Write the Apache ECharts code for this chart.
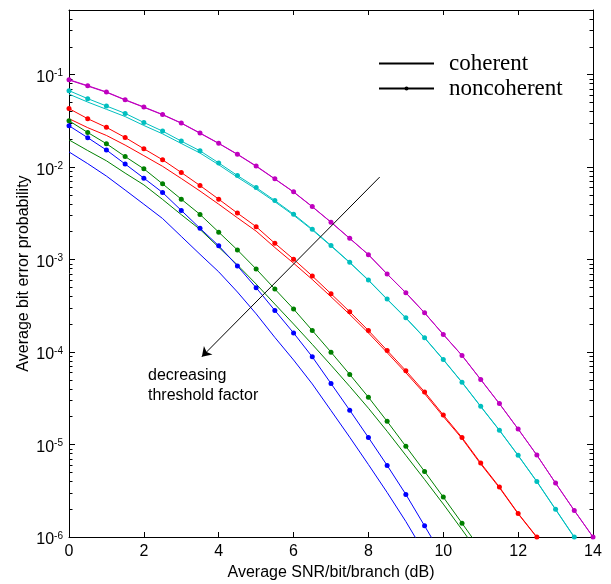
<!DOCTYPE html>
<html>
<head>
<meta charset="utf-8">
<script src="https://cdn.jsdelivr.net/npm/echarts@6/dist/echarts.min.js"></script>
<style>
  html, body { margin: 0; padding: 0; background: #fff; }
  #chart { width: 611px; height: 584px; }
</style>
</head>
<body>
<div id="chart"></div>
<script>
// Average SNR/bit/branch (dB), 0.5 dB steps
const snr = [0, 0.5, 1, 1.5, 2, 2.5, 3, 3.5, 4, 4.5, 5, 5.5, 6, 6.5, 7, 7.5, 8, 8.5, 9, 9.5, 10, 10.5, 11, 11.5, 12, 12.5, 13, 13.5, 14]

// bit error probability, noncoherent (with dots) / coherent (plain)
const nonMagenta = [8.83e-2, 7.60e-2, 6.50e-2, 5.36e-2, 4.47e-2, 3.71e-2, 3.00e-2, 2.34e-2, 1.81e-2, 1.38e-2, 1.03e-2, 7.47e-3, 5.40e-3, 3.74e-3, 2.54e-3, 1.70e-3, 1.13e-3, 6.98e-4, 4.38e-4, 2.66e-4, 1.55e-4, 9.19e-5, 5.05e-5, 2.77e-5, 1.47e-5, 7.69e-6, 3.83e-6, 1.94e-6, 1.0e-6]
const cohMagenta = [8.74e-2, 7.52e-2, 6.44e-2, 5.31e-2, 4.43e-2, 3.68e-2, 2.98e-2, 2.32e-2, 1.80e-2, 1.37e-2, 1.02e-2, 7.43e-3, 5.37e-3, 3.72e-3, 2.53e-3, 1.69e-3, 1.13e-3, 6.96e-4, 4.37e-4, 2.65e-4, 1.55e-4, 9.17e-5, 5.04e-5, 2.76e-5, 1.47e-5, 7.67e-6, 3.82e-6, 1.93e-6, 1.0e-6]

const nonCyan = [6.71e-2, 5.50e-2, 4.58e-2, 3.81e-2, 3.04e-2, 2.45e-2, 1.91e-2, 1.50e-2, 1.11e-2, 8.11e-3, 6.01e-3, 4.35e-3, 3.10e-3, 2.13e-3, 1.42e-3, 9.35e-4, 6.01e-4, 3.74e-4, 2.35e-4, 1.43e-4, 8.32e-5, 4.72e-5, 2.59e-5, 1.43e-5, 7.64e-6, 3.99e-6, 2.00e-6, 1.0e-6]
const cohCyan = [6.15e-2, 5.05e-2, 4.22e-2, 3.52e-2, 2.82e-2, 2.29e-2, 1.80e-2, 1.42e-2, 1.06e-2, 7.77e-3, 5.79e-3, 4.22e-3, 3.02e-3, 2.09e-3, 1.40e-3, 9.26e-4, 5.96e-4, 3.71e-4, 2.33e-4, 1.42e-4, 8.26e-5, 4.69e-5, 2.57e-5, 1.42e-5, 7.59e-6, 3.96e-6, 1.98e-6, 9.9e-7]

const nonRed = [4.29e-2, 3.34e-2, 2.69e-2, 2.09e-2, 1.58e-2, 1.20e-2, 8.74e-3, 6.32e-3, 4.50e-3, 3.18e-3, 2.27e-3, 1.50e-3, 1.01e-3, 6.64e-4, 4.27e-4, 2.73e-4, 1.71e-4, 1.04e-4, 6.29e-5, 3.71e-5, 2.09e-5, 1.19e-5, 6.31e-6, 3.47e-6, 1.80e-6, 1.0e-6]
const cohRed = [3.34e-2, 2.67e-2, 2.20e-2, 1.73e-2, 1.33e-2, 1.02e-2, 7.53e-3, 5.51e-3, 3.97e-3, 2.83e-3, 2.03e-3, 1.35e-3, 9.14e-4, 6.09e-4, 3.96e-4, 2.55e-4, 1.61e-4, 9.85e-5, 5.98e-5, 3.55e-5, 2.01e-5, 1.16e-5, 6.15e-6, 3.41e-6, 1.78e-6, 9.9e-7]

const nonGreen = [3.17e-2, 2.37e-2, 1.79e-2, 1.30e-2, 9.58e-3, 6.59e-3, 4.50e-3, 3.08e-3, 1.98e-3, 1.27e-3, 7.91e-4, 4.80e-4, 2.92e-4, 1.71e-4, 9.97e-5, 5.73e-5, 3.25e-5, 1.78e-5, 9.56e-6, 5.12e-6, 2.70e-6, 1.41e-6, 7.32e-7]
const cohGreen = [1.97e-2, 1.51e-2, 1.17e-2, 8.61e-3, 6.43e-3, 4.47e-3, 3.06e-3, 2.12e-3, 1.36e-3, 8.74e-4, 5.44e-4, 3.30e-4, 2.01e-4, 1.21e-4, 7.21e-5, 4.25e-5, 2.47e-5, 1.39e-5, 7.64e-6, 4.19e-6, 2.27e-6, 1.20e-6, 6.30e-7]

const nonBlue = [2.80e-2, 2.08e-2, 1.53e-2, 1.08e-2, 7.60e-3, 5.31e-3, 3.40e-3, 2.18e-3, 1.41e-3, 8.53e-4, 4.96e-4, 2.82e-4, 1.61e-4, 8.87e-5, 4.57e-5, 2.35e-5, 1.19e-5, 5.95e-6, 2.89e-6, 1.32e-6, 6.0e-7]
const cohBlue = [1.46e-2, 1.09e-2, 8.00e-3, 5.65e-3, 3.97e-3, 2.78e-3, 1.78e-3, 1.14e-3, 7.37e-4, 4.46e-4, 2.59e-4, 1.44e-4, 8.21e-5, 4.52e-5, 2.33e-5, 1.20e-5, 6.07e-6, 3.03e-6, 1.47e-6, 6.73e-7]

// y axis: decades 1e-6 .. 0.5 (drawn on log10 scale)
const yMin = 1e-6
const yMax = 0.5
const decades = [-6, -5, -4, -3, -2, -1]
const minorSteps = [2, 3, 4, 5, 6, 7, 8, 9]
const xTicks = [0, 2, 4, 6, 8, 10, 12, 14]

const legendNames = ['coherent', 'noncoherent']
const arrowFrom = [8.3, 7.8e-3]
const arrowTo = [3.55, 8.9e-5]

const curves = [
  { color: '#bf00bf', non: nonMagenta, coh: cohMagenta },
  { color: '#00bfbf', non: nonCyan, coh: cohCyan },
  { color: '#ff0000', non: nonRed, coh: cohRed },
  { color: '#008000', non: nonGreen, coh: cohGreen },
  { color: '#0000ff', non: nonBlue, coh: cohBlue }
]

const lg = v => Math.log10(v)
const toPoints = vals => vals.map((v, i) => [snr[i], lg(v)])

const minorValues = []
decades.concat([0]).forEach(d => {
  minorSteps.forEach(k => {
    const v = k * Math.pow(10, d)
    if (v > yMin && v < yMax) minorValues.push(lg(v))
  })
})

const sansFont = '"Liberation Sans", Arial, Helvetica, sans-serif'
const serifFont = '"Liberation Serif", "Times New Roman", serif'

const series = []
curves.forEach((c, idx) => {
  series.push({
    name: 'coh' + idx,
    type: 'line',
    data: toPoints(c.coh),
    symbol: 'none',
    lineStyle: { color: c.color, width: 1 },
    itemStyle: { color: c.color },
    clip: true,
    silent: true
  })
  series.push({
    name: 'non' + idx,
    type: 'line',
    data: toPoints(c.non),
    symbol: 'circle',
    symbolSize: 5,
    lineStyle: { color: c.color, width: 1 },
    itemStyle: { color: c.color },
    clip: true,
    silent: true
  })
})
// legend-only series
series.push({
  name: legendNames[0], type: 'line', data: [], symbol: 'none',
  lineStyle: { color: '#000', width: 1 }, itemStyle: { color: '#000' }
})
series.push({
  name: legendNames[1], type: 'line', data: [], symbol: 'circle', symbolSize: 5,
  lineStyle: { color: '#000', width: 1 }, itemStyle: { color: '#000' }
})
// annotation arrow
series.push({
  name: 'arrow', type: 'line', data: [],
  markLine: {
    silent: true,
    symbol: ['none', 'arrow'],
    symbolSize: 9,
    label: { show: false },
    lineStyle: { color: '#000', width: 1, type: 'solid' },
    data: [[
      { coord: [arrowFrom[0], lg(arrowFrom[1])] },
      { coord: [arrowTo[0], lg(arrowTo[1])] }
    ]]
  }
})

const yBase = {
  type: 'value',
  min: lg(yMin),
  max: lg(yMax),
  interval: 1,
  splitLine: { show: false },
  axisLine: { show: false, onZero: false }
}

const option = {
  animation: false,
  backgroundColor: '#fff',
  grid: { left: 69, right: 18, top: 10, bottom: 47, containLabel: false, outerBoundsMode: 'none' },
  legend: {
    left: 378,
    top: 52,
    padding: 0,
    orient: 'vertical',
    itemWidth: 55,
    itemHeight: 5,
    itemGap: 2,
    selectedMode: false,
    data: [
      { name: legendNames[0], itemStyle: { color: 'rgba(0,0,0,0)', borderWidth: 0 } },
      { name: legendNames[1] }
    ],
    textStyle: { fontFamily: serifFont, fontSize: 23, color: '#000', lineHeight: 22, padding: [0, 0, 0, 10] }
  },
  xAxis: [
    {
      type: 'value', min: 0, max: 14, interval: 2, position: 'bottom',
      name: 'Average SNR/bit/branch (dB)',
      nameLocation: 'middle',
      nameGap: 28,
      nameMoveOverlap: false,
      nameTextStyle: { fontFamily: sansFont, fontSize: 16, color: '#000' },
      splitLine: { show: false },
      axisLine: { show: true, onZero: false, lineStyle: { color: '#000', width: 1 } },
      axisTick: { show: true, inside: true, length: 5, lineStyle: { color: '#000' } },
      axisLabel: { margin: 7, fontFamily: sansFont, fontSize: 16, color: '#000', customValues: xTicks }
    },
    {
      type: 'value', min: 0, max: 14, interval: 2, position: 'top',
      splitLine: { show: false },
      axisLine: { show: true, onZero: false, lineStyle: { color: '#000', width: 1 } },
      axisTick: { show: true, inside: true, length: 5, lineStyle: { color: '#000' } },
      axisLabel: { show: false }
    }
  ],
  yAxis: [
    Object.assign({}, yBase, {
      position: 'left',
      name: 'Average bit error probability',
      nameLocation: 'middle',
      nameGap: 37,
      nameMoveOverlap: false,
      nameTextStyle: { fontFamily: sansFont, fontSize: 16, color: '#000' },
      axisLine: { show: true, onZero: false, lineStyle: { color: '#000', width: 1 } },
      axisTick: { show: true, inside: true, length: 6, lineStyle: { color: '#000' }, customValues: decades },
      axisLabel: {
        margin: 6,
        customValues: decades,
        formatter: v => '{b|10}{s|' + Math.round(v) + '}',
        rich: {
          b: { fontFamily: sansFont, fontSize: 16, color: '#000', lineHeight: 16, verticalAlign: 'top', padding: [3, 0, 0, 0] },
          s: { fontFamily: sansFont, fontSize: 10, color: '#000', lineHeight: 10, verticalAlign: 'top', padding: [2, 0, 0, 0] }
        }
      }
    }),
    Object.assign({}, yBase, {
      position: 'left',
      axisTick: { show: true, inside: true, length: 3.5, lineStyle: { color: '#000' }, customValues: minorValues },
      axisLabel: { show: false }
    }),
    Object.assign({}, yBase, {
      position: 'right',
      axisLine: { show: true, onZero: false, lineStyle: { color: '#000', width: 1 } },
      axisTick: { show: true, inside: true, length: 6, lineStyle: { color: '#000' }, customValues: decades },
      axisLabel: { show: false }
    }),
    Object.assign({}, yBase, {
      position: 'right',
      axisTick: { show: true, inside: true, length: 3.5, lineStyle: { color: '#000' }, customValues: minorValues },
      axisLabel: { show: false }
    })
  ],
  graphic: [
    {
      type: 'text',
      left: 148,
      top: 366,
      style: {
        text: 'decreasing\nthreshold factor',
        font: '16px ' + sansFont,
        fill: '#000',
        lineHeight: 20
      }
    }
  ],
  series: series
}

const myChart = echarts.init(document.getElementById('chart'))
myChart.setOption(option)
</script>
</body>
</html>
